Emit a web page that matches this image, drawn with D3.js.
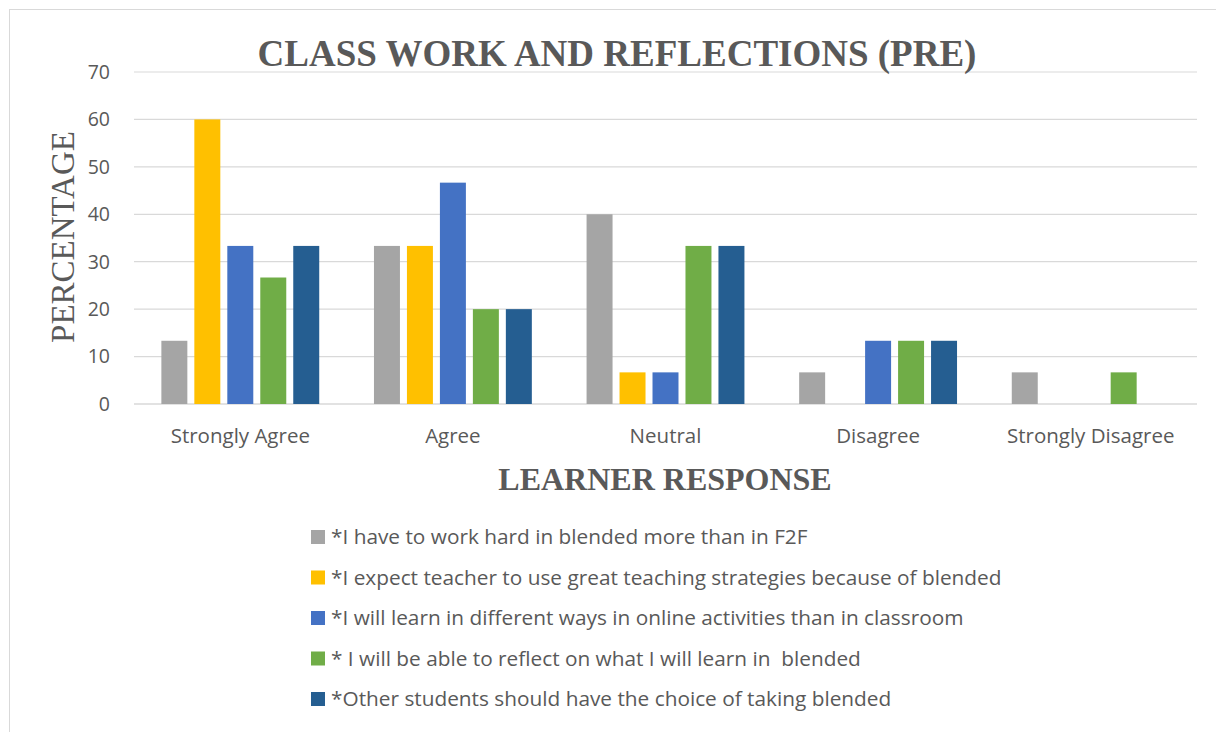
<!DOCTYPE html>
<html><head><meta charset="utf-8">
<script src="https://cdn.jsdelivr.net/npm/d3@7"></script>
<style>body{margin:0;background:#fff;} svg{display:block;} .lt{white-space:pre;}</style>
</head><body>
<svg id="c" width="1216" height="732"></svg>
<script>
const categories = ["Strongly Agree","Agree","Neutral","Disagree","Strongly Disagree"];
const seriesNames = [
  "*I have to work hard in blended more than in F2F",
  "*I expect teacher to use great teaching strategies because of blended",
  "*I will learn in different ways in online activities than in classroom",
  "* I will be able to reflect on what I will learn in  blended",
  "*Other students should have the choice of taking blended"
];
const seriesColors = ["#a5a5a5","#ffc000","#4472c4","#70ad47","#255e91"];
const s1 = [13.33, 33.33, 40, 6.67, 6.67];
const s2 = [60, 33.33, 6.67, 0, 0];
const s3 = [33.33, 46.67, 6.67, 13.33, 0];
const s4 = [26.67, 20, 33.33, 13.33, 6.67];
const s5 = [33.33, 20, 33.33, 13.33, 0];
const seriesValues = [s1,s2,s3,s4,s5];
const yTicks = [0,10,20,30,40,50,60,70];

const svg = d3.select("#c");
svg.append("rect").attr("x",9.5).attr("y",9.5).attr("width",1220).attr("height",740)
  .attr("fill","#fff").attr("stroke","#d9d9d9").attr("stroke-width",1);

const pL=134, pR=1197, pT=72, pB=404;
const x0 = d3.scaleBand().domain(categories).range([pL,pR]).paddingInner(0).paddingOuter(0);
const x1 = d3.scaleBand().domain(d3.range(5)).range([0,x0.bandwidth()]).paddingInner(0.212).paddingOuter(0.83);
const y = d3.scaleLinear().domain([0,70]).range([pB,pT]);

const font = "'Open Sans', 'Noto Sans', sans-serif";
svg.append("g").selectAll("line").data(yTicks).join("line")
  .attr("x1",pL).attr("x2",pR).attr("y1",d=>y(d)).attr("y2",d=>y(d))
  .attr("stroke","#d9d9d9").attr("stroke-width",d=>d===0?1.5:1.2);

svg.append("g").selectAll("text").data(yTicks).join("text")
  .attr("x",110).attr("y",d=>y(d)).attr("dy","0.35em").attr("text-anchor","end")
  .attr("font-family",font).attr("font-size",19.5).attr("fill","#595959").text(d=>d);

const g = svg.append("g");
categories.forEach((c,ci)=>{
  seriesValues.forEach((vals,si)=>{
    const v = vals[ci];
    if(v<=0) return;
    g.append("rect").attr("x",x0(c)+x1(si)).attr("width",x1.bandwidth())
      .attr("y",y(v)).attr("height",y(0)-y(v)).attr("fill",seriesColors[si]);
  });
});

svg.append("g").selectAll("text").data(categories).join("text")
  .attr("x",d=>x0(d)+x0.bandwidth()/2).attr("y",443).attr("text-anchor","middle")
  .attr("font-family",font).attr("font-size",20.5).attr("fill","#595959").text(d=>d);

svg.append("text").attr("x",617).attr("y",66).attr("text-anchor","middle")
  .attr("font-family","'Liberation Serif','Times New Roman',serif").attr("font-weight","bold")
  .attr("font-size",37).attr("fill","#595959").text("CLASS WORK AND REFLECTIONS (PRE)");

svg.append("text").attr("x",665).attr("y",490).attr("text-anchor","middle")
  .attr("font-family","'Liberation Serif','Times New Roman',serif").attr("font-weight","bold")
  .attr("font-size",32).attr("fill","#595959").text("LEARNER RESPONSE");

svg.append("text").attr("transform","translate(74,237) rotate(-90)").attr("text-anchor","middle")
  .attr("font-family","'Liberation Serif','Times New Roman',serif")
  .attr("font-size",33).attr("fill","#595959").text("PERCENTAGE");

const lg = svg.append("g");
seriesNames.forEach((n,i)=>{
  const yy = 537 + i*40.5;
  lg.append("rect").attr("x",311).attr("y",yy-7).attr("width",14).attr("height",14).attr("fill",seriesColors[i]);
  lg.append("text").attr("class","lt").attr("x",331).attr("y",yy).attr("dy","0.35em")
    .attr("font-family",font).attr("font-size",20.8).attr("fill","#595959").text(n);
});
</script>
</body></html>
